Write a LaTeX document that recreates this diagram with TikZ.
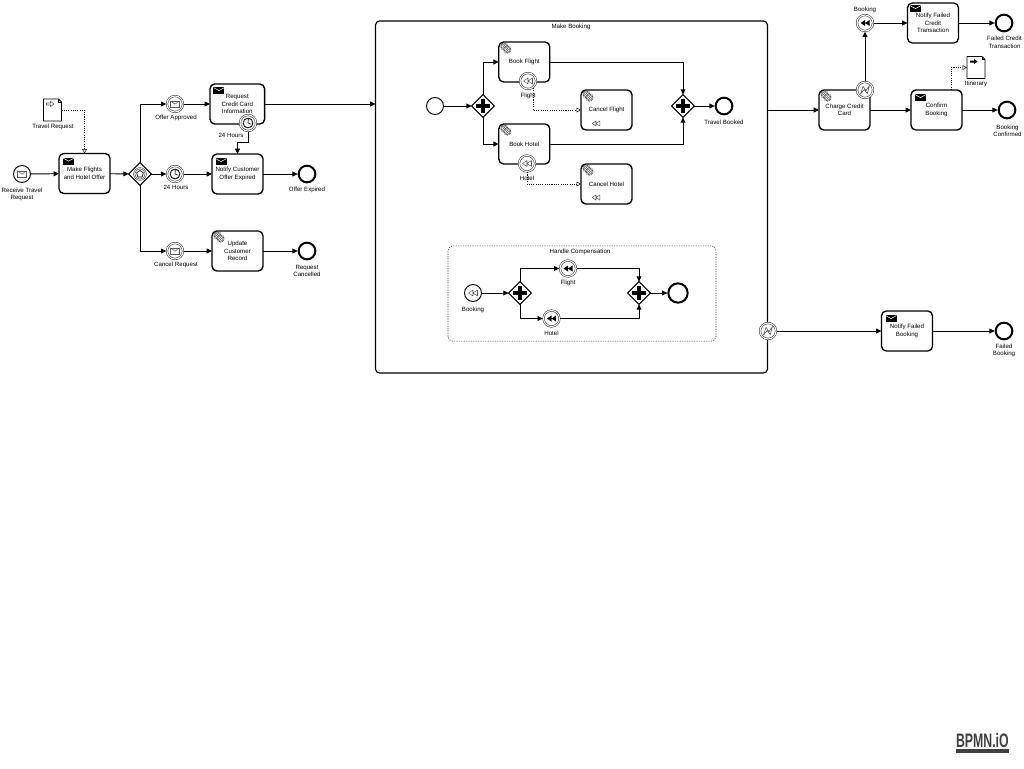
\documentclass[tikz,border=0pt]{standalone}
\usepackage{fontspec}
\setmainfont{Liberation Sans}
\usetikzlibrary{arrows.meta,shapes.geometric,calc}
\tikzset{
  lbl/.style={inner sep=0pt,outer sep=0pt,align=center,text=black,font=\fontsize{4.6}{5.6}\selectfont},
  txt/.style={lbl,yshift=-.5pt},
  taskbox/.style={lbl,draw=black,fill=white,line width=1pt,rounded corners=3.6pt,minimum width=38.25pt,minimum height=30pt},
  subbox/.style={draw=black,fill=white,line width=.85pt,rounded corners=3pt,inner sep=0pt,outer sep=0pt,minimum width=294pt,minimum height=264pt},
  groupbox/.style={draw=black!75,fill=white,line width=.45pt,dash pattern=on .9pt off .9pt,rounded corners=3.6pt,inner sep=0pt,outer sep=0pt,minimum width=201pt,minimum height=71.5pt},
  startev/.style={circle,draw=black,fill=white,line width=.7pt,minimum size=12.75pt,inner sep=0pt,outer sep=0pt},
  interev/.style={circle,draw=black!80,fill=white,double=white,double distance=.8pt,line width=.4pt,minimum size=12pt,inner sep=0pt,outer sep=.5pt},
  endev/.style={circle,draw=black,fill=white,line width=1.5pt,minimum size=12.5pt,inner sep=0pt,outer sep=.7pt},
  gwbox/.style={diamond,aspect=1,draw=black,fill=white,line width=.85pt,minimum size=17pt,inner sep=0pt,outer sep=0pt},
  docbox/.style={minimum width=13.5pt,minimum height=16.5pt,inner sep=0pt,outer sep=0pt},
  flowline/.style={draw=black,sharp corners,line width=.7pt,-{Triangle[length=4pt,width=3.6pt]}},
  assocline/.style={draw=black,sharp corners,line width=.5pt,dash pattern=on .8pt off .9pt,-{Triangle[open,fill=white,length=3.2pt,width=3.4pt,line width=.35pt]}},
  sendicon/.pic={
    \fill[black] (0,0) rectangle (11,7);
    \draw[white,line width=.4pt] (0,.6) -- (5.5,3.6) -- (11,.6);
  },
  recvicon/.pic={
    \draw[black!65,line width=.4pt] (-4.5,-3.2) rectangle (4.5,3.2);
    \draw[black!65,line width=.4pt] (-4.5,-3.2) -- (0,.2) -- (4.5,-3.2);
  },
  gearicon/.pic={
    \foreach \gx/\gy in {0/0,3/3}{
      \draw[black!65,fill=white,line width=.9pt,dash pattern=on .6pt off .55pt] (\gx,\gy) circle (3.5);
      \draw[black!65,fill=white,line width=.3pt] (\gx,\gy) circle (2.5);
      \draw[black!65,line width=.3pt] (\gx,\gy) circle (1.2);
    }
  },
  compicon/.pic={
    \draw[black!65,line width=.4pt,line join=round] (-4.5,0) -- (0,-3) -- (0,3) -- cycle (0,0) -- (4.5,-3) -- (4.5,3) -- cycle;
  },
  compfill/.pic={
    \fill[black] (-4.5,0) -- (0,-3) -- (0,3) -- cycle (0,0) -- (4.5,-3) -- (4.5,3) -- cycle;
  },
  timericon/.pic={
    \draw[black,line width=.6pt] (0,0) circle (4.9);
    \draw[black,line width=.45pt] (0,0) -- (.3,-3.8) (0,0) -- (3,1.2);
    \foreach \ta in {0,60,...,300}{\draw[black,line width=.3pt] (\ta:3.9) -- (\ta:4.9);}
  },
  erricon/.pic={
    \draw[black!65,line width=.45pt,line join=round] (-4.5,4) -- (-2,-3.6) -- (1,.6) -- (4.5,-4.4) -- (2.2,3.6) -- (-.8,-.4) -- cycle;
  },
  pentagonicon/.pic={
    \draw[black!75,line width=.35pt] (0,0) circle (6.4) (0,0) circle (5.2);
    \draw[black,line width=.5pt,line join=round] (90:-3.6) -- (162:-3.6) -- (234:-3.6) -- (306:-3.6) -- (18:-3.6) -- cycle;
  },
  plusicon/.pic={
    \draw[black,line width=2.3pt] (-6.8,0) -- (6.8,0) (0,-6.8) -- (0,6.8);
  },
  docicon/.pic={
    \draw[black,fill=white,line width=.7pt,line join=round] (-9,-11) -- (6,-11) -- (9,-8) -- (9,11) -- (-9,11) -- cycle;
    \draw[black,line width=.4pt] (6,-11) -- (6,-8) -- (9,-8);
  },
  arrowopen/.pic={
    \draw[black!65,line width=.4pt,line join=round] (0,-1) -- (4,-1) -- (4,-2.6) -- (7.5,0) -- (4,2.6) -- (4,1) -- (0,1) -- cycle;
  },
  arrowfill/.pic={
    \fill[black] (0,-1) -- (4,-1) -- (4,-2.6) -- (7.5,0) -- (4,2.6) -- (4,1) -- (0,1) -- cycle;
  },
}
\begin{document}
\begin{tikzpicture}[x=.75pt,y=-.75pt]
\path[use as bounding box,fill=white] (0,0) rectangle (1024,768);

% containers
\node[subbox] (sub) at (571.5,197) {};
\node[groupbox] (grp) at (582,293.5) {};

% tasks
\node[taskbox] (mk) at (84.5,173.5) {Make Flights\\and Hotel Offer};
\node[taskbox,minimum width=41pt] (rq) at (237.3,104) {Request\\Credit Card\\Information};
\node[taskbox] (nc) at (237.5,174) {Notify Customer\\Offer Expired};
\node[taskbox] (up) at (237.5,251) {Update\\Customer\\Record};
\node[taskbox] (bf) at (524.3,62) {Book Flight};
\node[taskbox] (bh) at (524.3,144) {Book Hotel};
\node[taskbox] (cf) at (606.5,110) {Cancel Flight};
\node[taskbox] (ch) at (606.5,184) {Cancel Hotel};
\node[taskbox] (cc) at (844.5,110) {Charge Credit\\Card};
\node[taskbox] (nk) at (933,23) {Notify Failed\\Credit\\Transaction};
\node[taskbox] (cb) at (936.5,110) {Confirm\\Booking};
\node[taskbox] (nb) at (907,331) {Notify Failed\\Booking};

% events
\node[startev] (s1) at (22,174) {};
\node[interev] (ea) at (175,104) {};
\node[interev] (eh) at (175,174) {};
\node[interev] (ec) at (175,251) {};
\node[interev] (bt) at (248,123) {};
\node[endev] (e1) at (307,174) {};
\node[endev] (e2) at (307,251) {};
\node[startev] (s2) at (435,106) {};
\node[interev] (b1) at (528,81) {};
\node[interev] (b2) at (527,163.5) {};
\node[endev] (e3) at (724,106) {};
\node[startev] (s3) at (473,293) {};
\node[interev] (hf) at (568,268.5) {};
\node[interev] (hh) at (551.5,318.5) {};
\node[endev,minimum size=14.5pt] (e4) at (678,293) {};
\node[interev] (b3) at (865,90) {};
\node[interev] (be) at (865,23) {};
\node[endev] (e5) at (1004,23) {};
\node[endev] (e6) at (1007,110) {};
\node[interev] (b4) at (768,331) {};
\node[endev] (e7) at (1004,331) {};

% gateways
\node[gwbox] (g1) at (140,174) {};
\node[gwbox] (g2) at (483,106) {};
\node[gwbox] (g3) at (683,106) {};
\node[gwbox] (g4) at (520,293) {};
\node[gwbox] (g5) at (639,293) {};

% data objects
\node[docbox] (d1) at (52.5,110) {};
\node[docbox] (d2) at (976,67.5) {};

% helper points
\coordinate (tbend) at (237.5,142);
\coordinate (cbout) at (951,90);

% sequence flows
\draw[flowline] (s1) -- (mk);
\draw[flowline] (mk) -- (g1);
\draw[flowline] (g1.north) |- (ea);
\draw[flowline] (g1) -- (eh);
\draw[flowline] (g1.south) |- (ec);
\draw[flowline] (ea) -- (ea -| rq.west);
\draw[flowline] (eh) -- (nc);
\draw[flowline] (ec) -- (up);
\draw[flowline] (nc) -- (e1);
\draw[flowline] (up) -- (e2);
\draw[flowline] (bt.south) |- (tbend) -- (nc.north);
\draw[flowline] (rq.east) -- (rq.east -| sub.west);
\draw[flowline] (s2) -- (g2);
\draw[flowline] (g2.north) |- (bf.west);
\draw[flowline] (g2.south) |- (bh.west);
\draw[flowline] (bf.east) -| (g3.north);
\draw[flowline] (bh.east) -| (g3.south);
\draw[flowline] (g3) -- (e3);
\draw[flowline] (s3) -- (g4);
\draw[flowline] (g4.north) |- (hf);
\draw[flowline] (g4.south) |- (hh);
\draw[flowline] (hf) -| (g5.north);
\draw[flowline] (hh) -| (g5.south);
\draw[flowline] (g5) -- (e4);
\draw[flowline] (cc.west -| sub.east) -- (cc.west);
\draw[flowline] (cc) -- (cb);
\draw[flowline] (cb) -- (e6);
\draw[flowline] (b3) -- (be);
\draw[flowline] (be) -- (nk);
\draw[flowline] (nk) -- (e5);
\draw[flowline] (b4) -- (nb);
\draw[flowline] (nb) -- (e7);

% associations
\draw[assocline] (d1.east) -| (mk.north);
\draw[assocline] (b1.-55) |- (cf.west);
\draw[assocline] (b2.south) |- (ch.west);
\draw[assocline] (cbout) |- (d2.west);

% data shapes
\pic at (d1) {docicon};
\pic at (d2) {docicon};
\pic at ($(d1)+(-6,-6)$) {arrowopen};
\pic at ($(d2)+(-6,-6)$) {arrowfill};

% task icons
\pic at ($(mk.north west)+(4,4)$) {sendicon};
\pic at ($(rq.north west)+(3.5,3)$) {sendicon};
\pic at ($(nc.north west)+(3.5,4)$) {sendicon};
\pic at ($(nk.north west)+(2.5,2)$) {sendicon};
\pic at ($(cb.north west)+(4,4)$) {sendicon};
\pic at ($(nb.north west)+(4,4)$) {sendicon};
\pic at ($(up.north west)+(5.5,4.5)$) {gearicon};
\pic at ($(bf.north west)+(5.5,4.5)$) {gearicon};
\pic at ($(bh.north west)+(5.5,4.5)$) {gearicon};
\pic at ($(cf.north west)+(5.5,4.5)$) {gearicon};
\pic at ($(ch.north west)+(5.5,4.5)$) {gearicon};
\pic at ($(cc.north west)+(5.5,4.5)$) {gearicon};
\pic[scale=.85] at ($(cf.south west)+(15,-6.5)$) {compicon};
\pic[scale=.85] at ($(ch.south west)+(15,-6.5)$) {compicon};

% event icons
\pic at (s1) {recvicon};
\pic at (ea) {recvicon};
\pic at (ec) {recvicon};
\pic at (eh) {timericon};
\pic at (bt) {timericon};
\pic at (b1) {compicon};
\pic at (b2) {compicon};
\pic at (s3) {compicon};
\pic at (hf) {compfill};
\pic at (hh) {compfill};
\pic at (be) {compfill};
\pic at (b3) {erricon};
\pic at (b4) {erricon};

% gateway icons
\pic at (g1) {pentagonicon};
\pic at (g2) {plusicon};
\pic at (g3) {plusicon};
\pic at (g4) {plusicon};
\pic at (g5) {plusicon};

% labels
\node[txt] (l1) at (22,194) {Receive Travel\\Request};
\node[txt] (l2) at (53,126.5) {Travel Request};
\node[txt] (l3) at (176,117) {Offer Approved};
\node[txt] (l4) at (176,187) {24 Hours};
\node[txt] (l5) at (231,135) {24 Hours};
\node[txt] (l6) at (307,189.5) {Offer Expired};
\node[txt] (l7) at (176,264) {Cancel Request};
\node[txt] (l8) at (307,270) {Request\\Cancelled};
\node[txt] (l9) at (571,26) {Make Booking};
\node[txt] (l10) at (528,95.5) {Flight};
\node[txt] (l11) at (527,178) {Hotel};
\node[txt] (l12) at (724,122) {Travel Booked};
\node[txt] (l13) at (580,251) {Handle Compensation};
\node[txt] (l14) at (473,309.5) {Booking};
\node[txt] (l15) at (568,282) {Flight};
\node[txt] (l16) at (551.5,333) {Hotel};
\node[txt] (l17) at (865,9) {Booking};
\node[txt] (l18) at (1004.5,41.5) {Failed Credit\\Transaction};
\node[txt] (l19) at (976,83.5) {Itinerary};
\node[txt] (l20) at (1007.5,130) {Booking\\Confirmed};
\node[txt] (l21) at (1004,350) {Failed\\Booking};

% logo
\node[inner sep=0pt,outer sep=0pt,anchor=south west,text=black!75] (logo) at (956,747.5) {\resizebox{39.5pt}{10.6pt}{\textbf{BPMN.iO}}};
\fill[black!75] (956,749) rectangle (1009,753);
\end{tikzpicture}
\end{document}
